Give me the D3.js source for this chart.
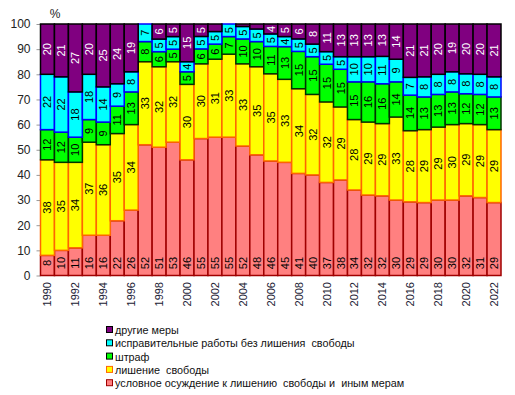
<!DOCTYPE html>
<html>
<head>
<meta charset="utf-8">
<script src="https://cdn.jsdelivr.net/npm/d3@7"></script>
<style>
  body { margin: 0; background: #fff; }
  text { font-family: Arial, "Liberation Sans", sans-serif; }
</style>
</head>
<body>
<script>
var width = 515;
var height = 395;

var years = d3.range(1990, 2023);
var yTicks = [0, 10, 20, 30, 40, 50, 60, 70, 80, 90, 100];

// values in %
var uslovnoe  = [8, 10, 11, 16, 16, 22, 26, 52, 51, 53, 46, 55, 55, 55, 52, 48, 46, 45, 41, 40, 37, 38, 34, 32, 32, 30, 29, 29, 30, 30, 32, 31, 29];
var lishenie  = [38, 35, 34, 37, 36, 35, 34, 33, 32, 32, 30, 30, 31, 33, 33, 35, 35, 33, 34, 32, 32, 29, 28, 29, 29, 33, 28, 29, 29, 30, 29, 29, 29];
var shtraf    = [12, 12, 10, 9, 9, 11, 13, 8, 6, 5, 5, 6, 6, 7, 10, 10, 11, 13, 15, 15, 15, 15, 15, 16, 16, 14, 14, 13, 13, 13, 12, 12, 13];
var ispravit  = [22, 22, 18, 18, 14, 9, 8, 7, 5, 5, 4, 5, 5, 5, 5, 5, 5, 4, 5, 5, 5, 5, 10, 10, 11, 9, 7, 8, 8, 8, 8, 8, 8];
var drugie    = [20, 21, 27, 20, 25, 24, 19, 0, 6, 5, 15, 5, 3, 0, 1, 2, 4, 5, 6, 8, 11, 13, 13, 13, 13, 14, 21, 21, 20, 19, 20, 20, 21];

var seriesNames = ["условное осуждение к лишению  свободы и  иным мерам", "лишение  свободы", "штраф",
                   "исправительные работы без лишения  свободы", "другие меры"];
var fills   = ["#ff8080", "#ffff00", "#00ff00", "#00ffff", "#800080"];
var strokes = ["#a00000", "#ff6600", "#003300", "#0000ff", "#000000"];
var labelColors = ["#000", "#000", "#000", "#000", "#fff"];

var keys = ["k0", "k1", "k2", "k3", "k4"];
var cols = [uslovnoe, lishenie, shtraf, ispravit, drugie];
var table = years.map(function (y, i) {
  var row = { year: y };
  keys.forEach(function (k, j) { row[k] = cols[j][i]; });
  return row;
});

var stack = d3.stack().keys(keys).offset(d3.stackOffsetExpand);
var layers = stack(table);

var x = d3.scaleBand().domain(years).range([40.5, 501]).padding(0);
var y = d3.scaleLinear().domain([0, 1]).range([275.5, 24]);
var yPct = d3.scaleLinear().domain([0, 100]).range([275.5, 24]);

var svg = d3.select("body").append("svg")
  .attr("width", width)
  .attr("height", height);

// y axis
var yAxis = svg.append("g")
  .attr("transform", "translate(40.5,0)")
  .call(d3.axisLeft(yPct).tickValues(yTicks).tickSize(4).tickPadding(6));
yAxis.select(".domain").remove();
yAxis.selectAll("line").attr("stroke", "#999");
yAxis.selectAll("text")
  .style("font-size", "12px")
  .attr("fill", "#222");

svg.append("text")
  .attr("x", 55)
  .attr("y", 18)
  .attr("text-anchor", "middle")
  .style("font-size", "12px")
  .attr("fill", "#222")
  .text("%");

// bars
var layer = svg.selectAll(".layer")
    .data(layers)
  .enter().append("g")
    .attr("class", "layer");

layer.selectAll("rect")
    .data(function (d) { return d.map(function (p) { p.li = d.index; return p; }); })
  .enter().append("rect")
    .attr("x", function (d) { return x(d.data.year); })
    .attr("width", x.bandwidth())
    .attr("y", function (d) { return y(d[1]); })
    .attr("height", function (d) { return y(d[0]) - y(d[1]); })
    .style("fill", function (d) { return fills[d.li]; })
    .style("stroke", function (d) { return strokes[d.li]; })
    .style("stroke-width", 1.5)
    .style("display", function (d) { return d[1] - d[0] > 0 ? null : "none"; });

// value labels
layer.selectAll("text")
    .data(function (d) { return d.filter(function (p) { return p.data[keys[p.li]] >= 4; }); })
  .enter().append("text")
    .attr("transform", function (d) {
      var cx = x(d.data.year) + x.bandwidth() / 2 + 4;
      var cy = d.li === 0 ? 263 : (y(d[0]) + y(d[1])) / 2;
      return "translate(" + cx + "," + cy + ") rotate(-90)";
    })
    .attr("text-anchor", "middle")
    .style("font-size", "11px")
    .attr("fill", function (d) { return labelColors[d.li]; })
    .text(function (d) { return d.data[keys[d.li]]; });

// x labels, every second year
svg.selectAll(".xlab")
    .data(years.filter(function (d) { return d % 2 === 0; }))
  .enter().append("text")
    .attr("class", "xlab")
    .attr("transform", function (d) {
      return "translate(" + (x(d) + x.bandwidth() / 2 + 4) + ",282) rotate(-90)";
    })
    .attr("text-anchor", "end")
    .style("font-size", "11px")
    .attr("fill", "#1a1a33")
    .text(function (d) { return d; });

// legend, top to bottom: other measures first
var legend = svg.selectAll(".legend")
    .data([4, 3, 2, 1, 0])
  .enter().append("g")
    .attr("class", "legend")
    .attr("transform", function (d, i) { return "translate(106," + (330 + i * 13.3) + ")"; });

legend.append("rect")
  .attr("x", 0.5)
  .attr("y", -3.5)
  .attr("width", 6)
  .attr("height", 6)
  .style("fill", function (d) { return fills[d]; })
  .style("stroke", function (d) { return d === 1 ? "#ff6600" : (d === 0 ? "#a00000" : "#000"); });

legend.append("text")
  .attr("x", 9)
  .attr("y", 4)
  .style("font-size", "10.8px")
  .style("white-space", "pre")
  .attr("fill", "#111")
  .text(function (d) { return seriesNames[d]; });
</script>
</body>
</html>
